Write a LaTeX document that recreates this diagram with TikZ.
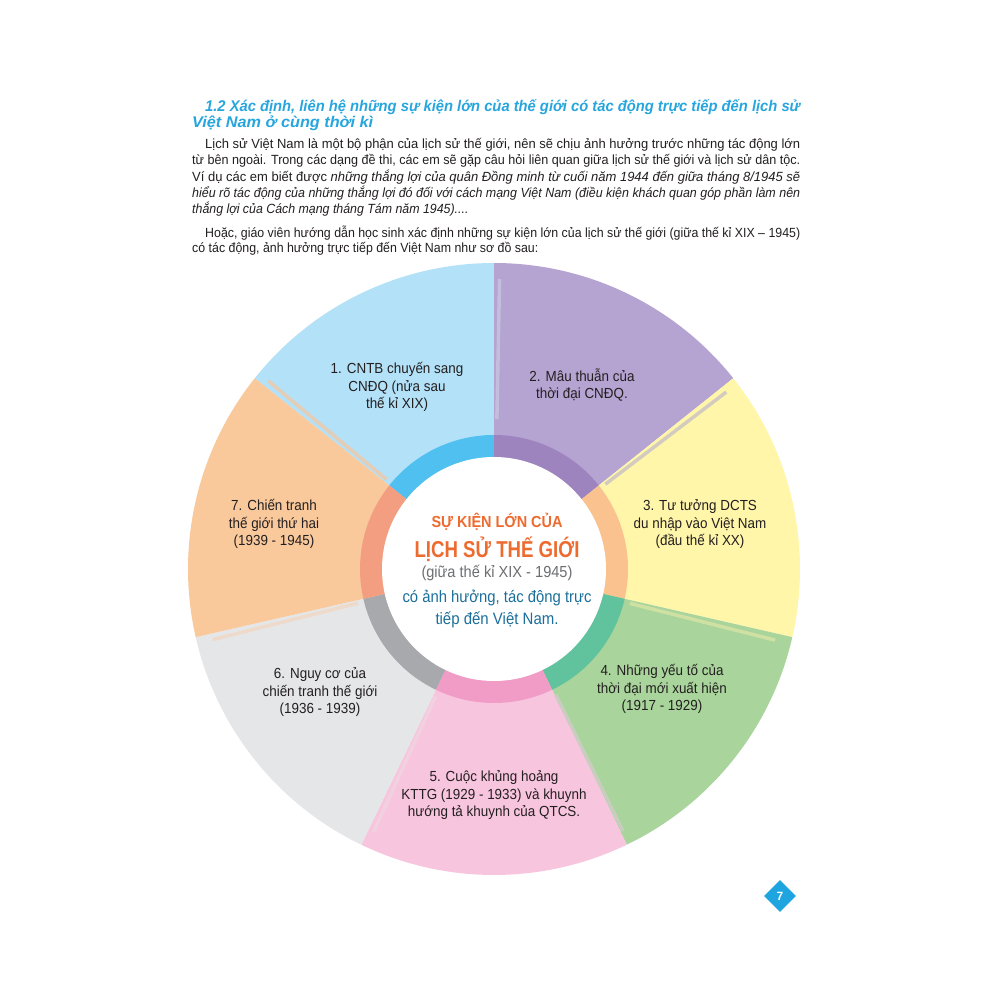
\documentclass[tikz,border=0pt]{standalone}
\usepackage{fontspec}
\usepackage{graphicx}
\setmainfont{Liberation Sans}
\newfontfamily\lblfont[FakeStretch=0.92]{Liberation Sans}
\newfontfamily\bodyfont[FakeStretch=0.93]{Liberation Sans}
\newfontfamily\ctrfont{Liberation Sans}
\usetikzlibrary{calc,shapes.geometric}
\definecolor{segA}{HTML}{B3E1F7}
\definecolor{segB}{HTML}{B5A3D1}
\definecolor{segC}{HTML}{FFF6AA}
\definecolor{segD}{HTML}{A9D49C}
\definecolor{segE}{HTML}{F8C5DE}
\definecolor{segF}{HTML}{E5E6E8}
\definecolor{segG}{HTML}{F9C99C}
\definecolor{ringA}{HTML}{4FC0EF}
\definecolor{ringB}{HTML}{9D84BF}
\definecolor{ringC}{HTML}{F9C28E}
\definecolor{ringD}{HTML}{61C29E}
\definecolor{ringE}{HTML}{F19CC6}
\definecolor{ringF}{HTML}{A7A9AC}
\definecolor{ringG}{HTML}{F39E81}
\definecolor{shA}{HTML}{C3BEDB}
\definecolor{shB}{HTML}{D3CBBE}
\definecolor{shC}{HTML}{CFE0A3}
\definecolor{shD}{HTML}{C9CDBF}
\definecolor{shE}{HTML}{F1D0E0}
\definecolor{shF}{HTML}{EDDACA}
\definecolor{shG}{HTML}{E4CDB6}
\definecolor{titleblue}{HTML}{27A6DE}
\definecolor{bodytext}{HTML}{231F20}
\definecolor{ctrorange}{HTML}{EE6B2F}
\definecolor{ctrgray}{HTML}{6D6E71}
\definecolor{ctrblue}{HTML}{1B6F9B}
\definecolor{pgblue}{HTML}{1EA5DF}
\tikzset{
  lbl/.style={align=center, text=bodytext, inner sep=0pt,
    font=\lblfont\fontsize{14.6}{17.5}\selectfont},
  bodyline/.style={anchor=west, inner sep=0pt, text=bodytext,
    font=\bodyfont\fontsize{13.3}{15}\selectfont},
  titleline/.style={anchor=west, inner sep=0pt, text=titleblue,
    font=\ctrfont\fontsize{15.5}{17}\selectfont\bfseries\itshape},
  ctrline/.style={inner sep=0pt, font=\ctrfont},
}
\begin{document}
\begin{tikzpicture}[x=1pt,y=-1pt]
\useasboundingbox (0,0) rectangle (1000,1000);
\fill[white] (0,0) rectangle (1000,1000);

% header text
\node[titleline] (h1) at (205,107) {\resizebox{595pt}{\height}{1.2 Xác định, liên hệ những sự kiện lớn của thế giới có tác động trực tiếp đến lịch sử}};
\node[titleline] (h2) at (192,123) {\resizebox{181pt}{\height}{Việt Nam ở cùng thời kì}};
\node[bodyline] (p1) at (205,145) {\resizebox{595pt}{\height}{Lịch sử Việt Nam là một bộ phận của lịch sử thế giới, nên sẽ chịu ảnh hưởng trước những tác động lớn}};
\node[bodyline] (p2) at (192,161) {\resizebox{608pt}{\height}{từ bên ngoài. Trong các dạng đề thi, các em sẽ gặp câu hỏi liên quan giữa lịch sử thế giới và lịch sử dân tộc.}};
\node[bodyline] (p3) at (192,177) {\resizebox{608pt}{\height}{Ví dụ các em biết được \textit{những thắng lợi của quân Đồng minh từ cuối năm 1944 đến giữa tháng 8/1945 sẽ}}};
\node[bodyline] (p4) at (192,193) {\resizebox{608pt}{\height}{\itshape hiểu rõ tác động của những thắng lợi đó đối với cách mạng Việt Nam (điều kiện khách quan góp phần làm nên}};
\node[bodyline] (p5) at (192,209) {\itshape thắng lợi của Cách mạng tháng Tám năm 1945)....};
\node[bodyline] (p6) at (205,233) {\resizebox{595pt}{\height}{Hoặc, giáo viên hướng dẫn học sinh xác định những sự kiện lớn của lịch sử thế giới (giữa thế kỉ XIX – 1945)}};
\node[bodyline] (p7) at (192,249) {có tác động, ảnh hưởng trực tiếp đến Việt Nam như sơ đồ sau:};

% wheel
\coordinate (C) at (494,569);
\foreach \a/\b/\c/\r in {90/141.43/segA/ringA, 38.57/90/segB/ringB, -12.86/38.57/segC/ringC, -64.29/-12.86/segD/ringD, -115.71/-64.29/segE/ringE, -167.14/-115.71/segF/ringF, 141.43/192.86/segG/ringG} {
  \fill[\c] (C) -- ($(C)+(-\a:306)$) arc[start angle=-\a, end angle=-\b, radius=306] -- cycle;
}
% shadow strips along the boundaries
\foreach \ang/\col/\ri/\ro in {88.9/shA/150/290, 37.3/shB/140/292, -14.2/shC/140/290, -63.8/shD/140/292, -114.6/shE/140/290, -165.9/shF/140/290, 140.2/shG/140/294} {
  \draw[\col, line width=3.5pt] ($(C)+(-\ang:\ri)$) -- ($(C)+(-\ang:\ro)$);
}
\foreach \a/\b/\c/\r in {90/141.43/segA/ringA, 38.57/90/segB/ringB, -12.86/38.57/segC/ringC, -64.29/-12.86/segD/ringD, -115.71/-64.29/segE/ringE, -167.14/-115.71/segF/ringF, 141.43/192.86/segG/ringG} {
  \fill[\r] (C) -- ($(C)+(-\a:134)$) arc[start angle=-\a, end angle=-\b, radius=134] -- cycle;
}
\fill[white] (C) circle[radius=112];

% segment labels
\node[lbl] (s1) at (397,387) {1. CNTB chuyến sang\\CNĐQ (nửa sau\\thế kỉ XIX)};
\node[lbl] (s2) at (582,385) {2. Mâu thuẫn của\\thời đại CNĐQ.};
\node[lbl] (s3) at (700,524) {3. Tư tưởng DCTS\\du nhập vào Việt Nam\\(đầu thế kỉ XX)};
\node[lbl] (s4) at (662,689) {4. Những yếu tố của\\thời đại mới xuất hiện\\(1917 - 1929)};
\node[lbl] (s5) at (494,795) {5. Cuộc khủng hoảng\\KTTG (1929 - 1933) và khuynh\\hướng tả khuynh của QTCS.};
\node[lbl] (s6) at (320,692) {6. Nguy cơ của\\chiến tranh thế giới\\(1936 - 1939)};
\node[lbl] (s7) at (274,524) {7. Chiến tranh\\thế giới thứ hai\\(1939 - 1945)};

% centre text
\node[ctrline, text=ctrorange] (c1) at (497,522) {\resizebox{131pt}{\height}{\fontsize{16}{18}\selectfont\bfseries SỰ KIỆN LỚN CỦA}};
\node[ctrline, text=ctrorange] (c2) at (497,549) {\resizebox{165pt}{\height}{\fontsize{23}{25}\selectfont\bfseries LỊCH SỬ THẾ GIỚI}};
\node[ctrline, text=ctrgray] (c3) at (497,573) {\resizebox{151pt}{\height}{\fontsize{16}{17}\selectfont (giữa thế kỉ XIX - 1945)}};
\node[ctrline, text=ctrblue] (c4) at (497,598) {\resizebox{189pt}{\height}{\fontsize{16.5}{17}\selectfont có ảnh hưởng, tác động trực}};
\node[ctrline, text=ctrblue] (c5) at (497,620) {\resizebox{123pt}{\height}{\fontsize{16.5}{17}\selectfont tiếp đến Việt Nam.}};

% page number
\node[diamond, fill=pgblue, minimum width=32pt, minimum height=32pt, inner sep=0pt, text=white, font=\ctrfont\fontsize{12}{12}\selectfont\bfseries] (pg) at (780,896) {7};
\end{tikzpicture}
\end{document}
